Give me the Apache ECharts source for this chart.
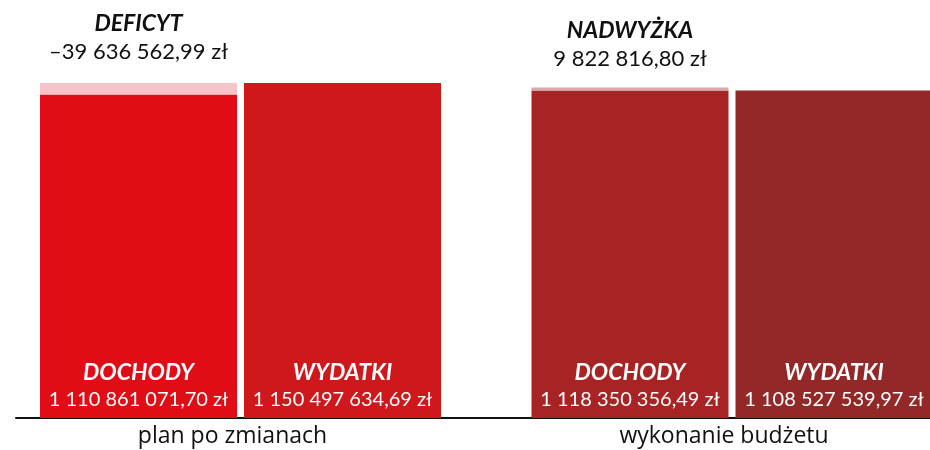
<!DOCTYPE html>
<html>
<head>
<meta charset="utf-8">
<script src="https://cdn.jsdelivr.net/npm/echarts@6/dist/echarts.min.js"></script>
<style>
  html, body { margin: 0; padding: 0; background: #fff; }
  #chartWrap { width: 930px; height: 450px; }
</style>
</head>
<body>
<div id="chartWrap"></div>
<script>
// dane budżetu (zł)
var categories = ['plan po zmianach', 'wykonanie budżetu'];
var dochody = [1110861071.70, 1118350356.49];
var wydatki = [1150497634.69, 1108527539.97];
var saldo = [-39636562.99, 9822816.80];
var saldoNames = ['DEFICYT', 'NADWYŻKA'];

var FONT = 'Lato';
var colDochody = ['#e00c16', '#a82323'];
var colWydatki = ['#cf181b', '#922928'];
var colSaldo = ['#f8c3c9', '#d5aaab'];
// każda grupa ma własną skalę, jak w oryginale
var maxY = [1298000000, 1279000000];

// format: 1 110 861 071,70 zł
function fmt(v) {
  var neg = v < 0;
  var parts = Math.abs(v).toFixed(2).split('.');
  var intPart = parts[0].replace(/\B(?=(\d{3})+(?!\d))/g, ' ');
  return (neg ? '–' : '') + intPart + ',' + parts[1] + ' zł';
}

var grids = [
  { left: 16, width: 449, top: 40, bottom: 32, outerBoundsMode: 'none' },
  { left: 465, width: 534, top: 40, bottom: 32, outerBoundsMode: 'none' }
];

var xAxes = [], yAxes = [], series = [];

function innerLabel(title, value) {
  return {
    show: true,
    position: 'insideBottom',
    distance: 5,
    formatter: '{t|' + title + '}\n{v|' + fmt(value) + '}',
    rich: {
      t: { fontFamily: FONT, fontSize: 23, fontWeight: 'bold', fontStyle: 'italic', color: '#fff', lineHeight: 27, align: 'center' },
      v: { fontFamily: FONT, fontSize: 20, color: '#fff', lineHeight: 27, align: 'center' }
    }
  };
}

for (var i = 0; i < categories.length; i++) {
  xAxes.push({
    type: 'category',
    gridIndex: i,
    data: [categories[i]],
    axisLine: { show: true, lineStyle: { color: '#111', width: 2 } },
    axisTick: { show: false },
    axisLabel: { fontFamily: 'Open Sans', fontSize: 23, color: '#111', margin: 7, padding: [0, 16, 0, 0] }
  });
  yAxes.push({ type: 'value', gridIndex: i, min: 0, max: maxY[i], show: false, splitLine: { show: false } });

  // deficyt: dochody + brakująca część; nadwyżka: wydatki + nadwyżka
  var base = saldo[i] < 0 ? dochody[i] : wydatki[i];
  series.push({
    type: 'bar', xAxisIndex: i, yAxisIndex: i, stack: 'doch' + i,
    barWidth: 197, barGap: '3.55%',
    data: [base],
    itemStyle: { color: colDochody[i] },
    label: innerLabel('DOCHODY', dochody[i]),
    silent: true
  });
  series.push({
    type: 'bar', xAxisIndex: i, yAxisIndex: i, stack: 'doch' + i,
    barWidth: 197, barGap: '3.55%',
    data: [Math.abs(saldo[i])],
    itemStyle: { color: colSaldo[i] },
    label: {
      show: true,
      position: 'top',
      distance: i == 0 ? 17 : 15,
      formatter: '{t|' + saldoNames[i] + '}\n{v|' + fmt(saldo[i]) + '}',
      rich: {
        t: { fontFamily: FONT, fontSize: 23, fontWeight: 'bold', fontStyle: 'italic', color: '#111', lineHeight: 28, align: 'center' },
        v: { fontFamily: FONT, fontSize: 22, color: '#111', lineHeight: 28, align: 'center' }
      }
    },
    silent: true
  });
  series.push({
    type: 'bar', xAxisIndex: i, yAxisIndex: i, stack: 'wyd' + i,
    barWidth: 197, barGap: '3.55%',
    data: [wydatki[i]],
    itemStyle: { color: colWydatki[i] },
    label: innerLabel('WYDATKI', wydatki[i]),
    silent: true
  });
}

var myChart = echarts.init(document.getElementById('chartWrap'), null, { renderer: 'canvas' });
myChart.setOption({
  animation: false,
  backgroundColor: '#fff',
  grid: grids,
  xAxis: xAxes,
  yAxis: yAxes,
  series: series
});
</script>
</body>
</html>
